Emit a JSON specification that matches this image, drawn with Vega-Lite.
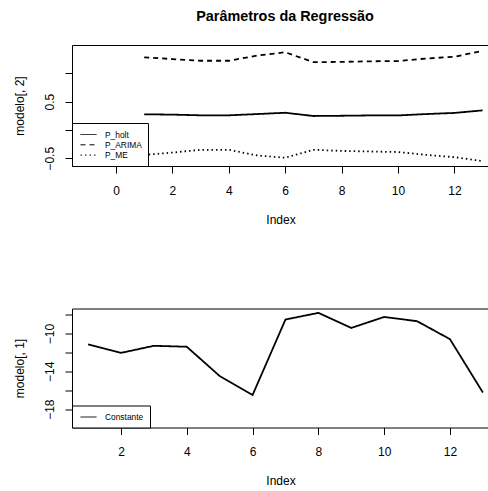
{
  "$schema": "https://vega.github.io/schema/vega-lite/v6.json",
  "padding": {"left": 12, "top": 8, "right": 0, "bottom": 0},
  "background": "white",
  "spacing": 81.5,
  "resolve": {"scale": {"strokeDash": "independent", "x": "independent", "y": "independent"}, "legend": {"strokeDash": "independent"}},
  "datasets": {
    "params": [
      {"index": 1, "series": "P_holt", "value": 0.276},
      {"index": 2, "series": "P_holt", "value": 0.27},
      {"index": 3, "series": "P_holt", "value": 0.258},
      {"index": 4, "series": "P_holt", "value": 0.258},
      {"index": 5, "series": "P_holt", "value": 0.28},
      {"index": 6, "series": "P_holt", "value": 0.303},
      {"index": 7, "series": "P_holt", "value": 0.246},
      {"index": 8, "series": "P_holt", "value": 0.25},
      {"index": 9, "series": "P_holt", "value": 0.256},
      {"index": 10, "series": "P_holt", "value": 0.256},
      {"index": 11, "series": "P_holt", "value": 0.28},
      {"index": 12, "series": "P_holt", "value": 0.3},
      {"index": 13, "series": "P_holt", "value": 0.345},
      {"index": 1, "series": "P_ARIMA", "value": 1.28},
      {"index": 2, "series": "P_ARIMA", "value": 1.25},
      {"index": 3, "series": "P_ARIMA", "value": 1.22},
      {"index": 4, "series": "P_ARIMA", "value": 1.22},
      {"index": 5, "series": "P_ARIMA", "value": 1.31},
      {"index": 6, "series": "P_ARIMA", "value": 1.37},
      {"index": 7, "series": "P_ARIMA", "value": 1.195},
      {"index": 8, "series": "P_ARIMA", "value": 1.2},
      {"index": 9, "series": "P_ARIMA", "value": 1.21},
      {"index": 10, "series": "P_ARIMA", "value": 1.215},
      {"index": 11, "series": "P_ARIMA", "value": 1.26},
      {"index": 12, "series": "P_ARIMA", "value": 1.29},
      {"index": 13, "series": "P_ARIMA", "value": 1.395},
      {"index": 1, "series": "P_ME", "value": -0.44},
      {"index": 2, "series": "P_ME", "value": -0.4},
      {"index": 3, "series": "P_ME", "value": -0.35},
      {"index": 4, "series": "P_ME", "value": -0.35},
      {"index": 5, "series": "P_ME", "value": -0.45},
      {"index": 6, "series": "P_ME", "value": -0.49},
      {"index": 7, "series": "P_ME", "value": -0.35},
      {"index": 8, "series": "P_ME", "value": -0.37},
      {"index": 9, "series": "P_ME", "value": -0.38},
      {"index": 10, "series": "P_ME", "value": -0.39},
      {"index": 11, "series": "P_ME", "value": -0.44},
      {"index": 12, "series": "P_ME", "value": -0.48},
      {"index": 13, "series": "P_ME", "value": -0.55}
    ],
    "const": [
      {"index": 1, "series": "Constante", "value": -11.16},
      {"index": 2, "series": "Constante", "value": -12.05},
      {"index": 3, "series": "Constante", "value": -11.3},
      {"index": 4, "series": "Constante", "value": -11.4},
      {"index": 5, "series": "Constante", "value": -14.5},
      {"index": 6, "series": "Constante", "value": -16.5},
      {"index": 7, "series": "Constante", "value": -8.52},
      {"index": 8, "series": "Constante", "value": -7.82},
      {"index": 9, "series": "Constante", "value": -9.41},
      {"index": 10, "series": "Constante", "value": -8.25},
      {"index": 11, "series": "Constante", "value": -8.7},
      {"index": 12, "series": "Constante", "value": -10.6},
      {"index": 13, "series": "Constante", "value": -16.24}
    ]
  },
  "vconcat": [
    {
      "width": 417,
      "height": 121,
      "title": {"text": "Parâmetros da Regressão", "fontSize": 14.4, "fontWeight": "bold", "font": "Liberation Sans", "color": "black", "offset": 10, "baseline": "alphabetic", "dx": 4.5},
      "data": {"name": "params"},
      "mark": {"type": "line", "color": "black", "strokeWidth": 1.8, "clip": true},
      "encoding": {
        "x": {"field": "index", "type": "quantitative", "scale": {"domain": [-1.56, 13.227], "nice": false, "zero": false},
          "axis": {"title": "Index", "values": [0, 2, 4, 6, 8, 10, 12], "labelPadding": 12, "titlePadding": 18}},
        "y": {"field": "value", "type": "quantitative", "scale": {"domain": [-0.636, 1.498], "nice": false, "zero": false},
          "axis": {"title": "modelo[, 2]", "values": [-0.5, 0, 0.5, 1], "labelExpr": "datum.value == -0.5 ? '−0.5' : (datum.value == 0.5 ? '0.5' : '')", "labelAngle": -90, "labelAlign": "center", "labelBaseline": "bottom", "labelPadding": 9, "titlePadding": 17}},
        "strokeDash": {"field": "series", "type": "nominal",
          "scale": {"domain": ["P_holt", "P_ARIMA", "P_ME"], "range": [[1, 0], [5, 4], [1.5, 3]]},
          "legend": {"title": null, "orient": "bottom-left", "offset": 0}}
      }
    },
    {
      "width": 417,
      "height": 119,
      "data": {"name": "const"},
      "mark": {"type": "line", "color": "black", "strokeWidth": 1.8, "clip": true},
      "encoding": {
        "x": {"field": "index", "type": "quantitative", "scale": {"domain": [0.511, 13.186], "nice": false, "zero": false},
          "axis": {"title": "Index", "values": [2, 4, 6, 8, 10, 12], "labelPadding": 12, "titlePadding": 18}},
        "y": {"field": "value", "type": "quantitative", "scale": {"domain": [-19.937, -7.357], "nice": false, "zero": false},
          "axis": {"title": "modelo[, 1]", "values": [-18, -16, -14, -12, -10, -8], "labelExpr": "datum.value == -18 ? '−18' : (datum.value == -14 ? '−14' : (datum.value == -10 ? '−10' : ''))", "labelAngle": -90, "labelAlign": "center", "labelBaseline": "bottom", "labelPadding": 9, "titlePadding": 17}},
        "strokeDash": {"field": "series", "type": "nominal",
          "scale": {"domain": ["Constante"], "range": [[1, 0]]},
          "legend": {"title": null, "orient": "bottom-left", "offset": 0}}
      }
    }
  ],
  "config": {
    "font": "Liberation Sans",
    "view": {"stroke": "black", "strokeWidth": 1},
    "axis": {"grid": false, "domain": false, "tickColor": "black", "tickSize": 7, "tickWidth": 1, "labelColor": "black", "titleColor": "black", "labelFontSize": 12, "titleFontSize": 12, "titleFontWeight": "normal", "labelFont": "Liberation Sans", "titleFont": "Liberation Sans", "labelFlush": false, "labelOverlap": false},
    "legend": {"padding": 6, "fillColor": "white", "strokeColor": "black", "strokeWidth": 1, "symbolType": "M-0.6,0L2.6,0", "symbolSize": 100, "symbolStrokeWidth": 1, "symbolStrokeColor": "black", "symbolFillColor": "transparent", "labelFontSize": 8.4, "labelOffset": 16, "rowPadding": 0.3, "labelColor": "black", "labelFont": "Liberation Sans", "cornerRadius": 0}
  }
}
